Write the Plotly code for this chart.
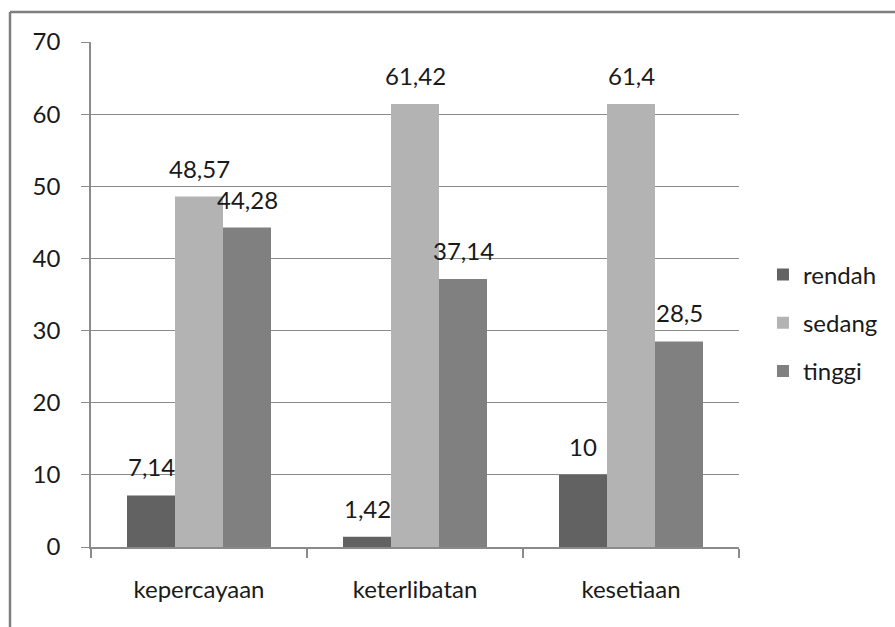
import plotly.graph_objects as go

categories = ["kepercayaan", "keterlibatan", "kesetiaan"]
rendah = [7.14, 1.42, 10]
sedang = [48.57, 61.42, 61.4]
tinggi = [44.28, 37.14, 28.5]
value_labels = {
    "rendah": ["7,14", "1,42", "10"],
    "sedang": ["48,57", "61,42", "61,4"],
    "tinggi": ["44,28", "37,14", "28,5"],
}
y_ticks = [0, 10, 20, 30, 40, 50, 60, 70]

FONT = "Lato"
FS = 24
series = [
    ("rendah", rendah, "#626262"),
    ("sedang", sedang, "#b3b3b3"),
    ("tinggi", tinggi, "#808080"),
]
BAR_PX = 48  # rendered width of one bar inside a group

fig = go.Figure()
for name, vals, color in series:
    fig.add_trace(go.Bar(
        x=categories, y=vals, name=name, legendgroup=name,
        marker=dict(color=color, line=dict(width=0)),
        cliponaxis=False,
    ))

# value labels floating above each bar
for k, (name, vals, _) in enumerate(series):
    for cat, v, lab in zip(categories, vals, value_labels[name]):
        fig.add_annotation(
            x=cat, y=v, xref="x", yref="y", text=lab, showarrow=False,
            xanchor="center", yanchor="bottom",
            xshift=(k - 1) * BAR_PX, yshift=12,
            font=dict(family=FONT, size=FS, color="#1a1a1a"),
        )

grid = "#8a8a8a"
fig.update_layout(
    width=895, height=627,
    margin=dict(l=91, r=156, t=42, b=80, autoexpand=False),
    paper_bgcolor="white", plot_bgcolor="white",
    barmode="group", bargap=1/3, bargroupgap=0,
    font=dict(family=FONT, size=FS, color="#1a1a1a"),
    showlegend=True,
    legend=dict(x=1.037, y=0.4436, xanchor="left", yanchor="middle",
                font=dict(family=FONT, size=FS, color="#1a1a1a"),
                tracegroupgap=14, itemwidth=30, bgcolor="rgba(0,0,0,0)"),
    xaxis=dict(showline=True, linecolor=grid, linewidth=1.5,
               ticks="outside", tickson="boundaries", ticklen=9,
               tickcolor=grid, tickwidth=1.5, ticklabelstandoff=20,
               showgrid=False, zeroline=False),
    yaxis=dict(range=[0, 70], tickvals=y_ticks, showgrid=True,
               gridcolor=grid, gridwidth=1.2, showline=True,
               linecolor=grid, linewidth=1.5, ticks="outside",
               ticklen=8, tickcolor=grid, tickwidth=1.2,
               ticklabelstandoff=16, zeroline=False),
)

# outer chart frame (top and left edges)
fig.add_shape(type="line", xref="paper", yref="paper",
              x0=-0.125, x1=1.3, y0=1.0594, y1=1.0594,
              line=dict(color="#7f7f7f", width=2.5))
fig.add_shape(type="line", xref="paper", yref="paper",
              x0=-0.125, x1=-0.125, y0=1.0594, y1=-0.2,
              line=dict(color="#7f7f7f", width=2.5))

fig.write_html("out.html")
